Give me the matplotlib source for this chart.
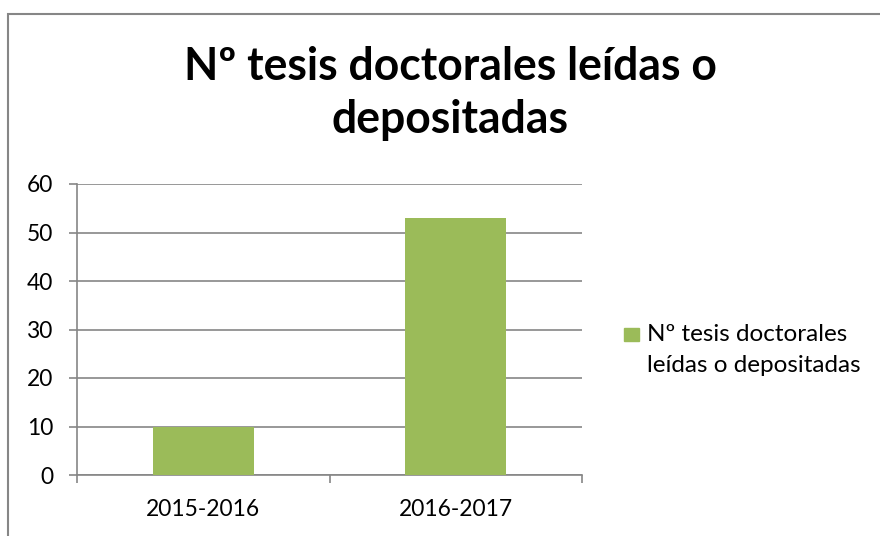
import matplotlib.pyplot as plt
from matplotlib.patches import Rectangle

categorias = ['2015-2016', '2016-2017']
tesis = [10, 53]
serie = ['Nº tesis doctorales', 'leídas o depositadas']
titulo = ['Nº tesis doctorales leídas o', 'depositadas']
yticks = [0, 10, 20, 30, 40, 50, 60]

VERDE = '#9BBB59'
GRIS = '#868686'
FUENTE = ['Lato', 'DejaVu Sans']

plt.rcParams['font.family'] = FUENTE

W, H = 880, 536
fig = plt.figure(figsize=(W / 100, H / 100), dpi=100)
renderer = fig.canvas.get_renderer()


def ajustar(texto, ancho_px, **kw):
    # tamaño de letra para que el texto mida ancho_px de ancho
    t = fig.text(0, 0, texto, fontsize=20, **kw)
    w = t.get_window_extent(renderer).width
    t.remove()
    return 20 * ancho_px / w


def fx(px):
    return px / W


def fy(px):
    return 1 - px / H


# marco exterior (se sale por la derecha y por abajo)
fig.add_artist(Rectangle((fx(8), -0.05), 1.1, fy(14) + 0.05,
                         transform=fig.transFigure, fill=False,
                         edgecolor=GRIS, linewidth=1.5))

ax = fig.add_axes([fx(77), fy(475), fx(505), 291 / H])
x = list(range(len(categorias)))
ax.bar(x, tesis, width=0.4, color=VERDE, zorder=3)

ax.set_xlim(-0.5, len(categorias) - 0.5)
ax.set_ylim(0, 60)
ax.set_yticks(yticks)
ax.set_xticks(x)
ax.set_xticklabels(categorias)
ax.set_xticks([i - 0.5 for i in range(len(categorias) + 1)], minor=True)

ax.grid(axis='y', color=GRIS, linewidth=1.2, zorder=0)
for s in ['top', 'right']:
    ax.spines[s].set_visible(False)
for s in ['left', 'bottom']:
    ax.spines[s].set_color(GRIS)
    ax.spines[s].set_linewidth(1.2)

fs_ejes = ajustar('2016-2017', 114)
ax.tick_params(axis='y', direction='out', length=6, width=1.2, color=GRIS,
               labelsize=fs_ejes, pad=11)
ax.tick_params(axis='x', which='major', length=0, labelsize=fs_ejes, pad=17)
ax.tick_params(axis='x', which='minor', direction='out', length=6, width=1.2,
               color=GRIS)

fs_titulo = ajustar(titulo[0], 534, fontweight='bold')
fig.text(fx(450), fy(80), titulo[0], ha='center', va='baseline',
         fontsize=fs_titulo, fontweight='bold')
fig.text(fx(450), fy(133), titulo[1], ha='center', va='baseline',
         fontsize=fs_titulo, fontweight='bold')

# leyenda
fig.add_artist(Rectangle((fx(624), fy(341)), 15 / W, 13 / H,
                         transform=fig.transFigure, color=VERDE))
fs_ley = ajustar(serie[0], 200)
fig.text(fx(647), fy(341), serie[0], ha='left', va='baseline', fontsize=fs_ley)
fig.text(fx(647), fy(372), serie[1], ha='left', va='baseline', fontsize=fs_ley)

fig.savefig('out.png', dpi=100)
